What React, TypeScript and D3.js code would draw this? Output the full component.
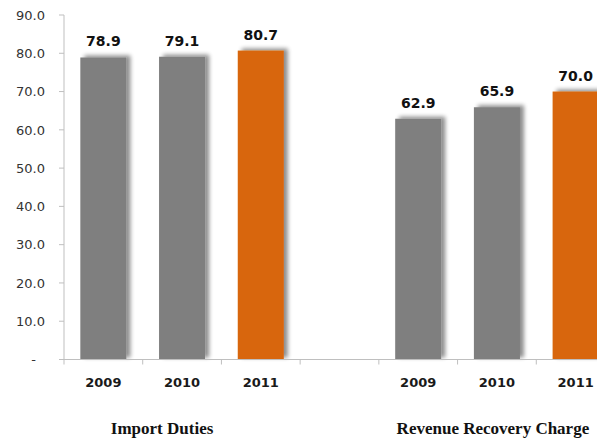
import React from "react";
import * as d3 from "d3";

const years = ["2009", "2010", "2011"];
const groupNames = ["Import Duties", "Revenue Recovery Charge"];
const importDuties = [78.9, 79.1, 80.7];
const revenueRecovery = [62.9, 65.9, 70.0];
const yTicks = [0, 10, 20, 30, 40, 50, 60, 70, 80, 90];

const W = 597;
const H = 439;

export default function App() {
  // 7 slots: group1 (3), blank spacer (1), group2 (3)
  const slots = d3.range(7);
  const x = d3
    .scaleBand<number>()
    .domain(slots)
    .range([64, 615])
    .paddingInner(0.415)
    .paddingOuter(0.2075);
  const y = d3.scaleLinear().domain([0, 90]).range([359.5, 15]);
  const step = x.step();
  const bw = x.bandwidth();

  const bars = [
    ...importDuties.map((v, i) => ({ slot: i, year: years[i], value: v, idx: i })),
    ...revenueRecovery.map((v, i) => ({ slot: i + 4, year: years[i], value: v, idx: i })),
  ];

  const x0 = x.range()[0];
  const boundaries = d3.range(8).map((i) => x0 + i * step);
  const grey = "#7f7f7f";
  const orange = "#d8660b";
  const axisColor = "#bfbfbf";

  const groupCenter = (g: number) => (x(g * 4 + 1)! + bw / 2);

  return (
    <svg
      width={W}
      height={H}
      style={{ position: "absolute", left: 0, top: 0, background: "#fff" }}
    >
      <defs>
        <filter id="shadow" x="-30%" y="-10%" width="160%" height="120%">
          <feGaussianBlur in="SourceAlpha" stdDeviation="2.2" result="blur" />
          <feOffset in="blur" dx="4" dy="-2" result="off" />
          <feComponentTransfer in="off" result="shadowFaded">
            <feFuncA type="linear" slope="0.45" />
          </feComponentTransfer>
          <feMerge>
            <feMergeNode in="shadowFaded" />
            <feMergeNode in="SourceGraphic" />
          </feMerge>
        </filter>
      </defs>
      <rect width={W} height={H} fill="#fff" />

      {/* y axis */}
      <line x1={64} x2={64} y1={y(90)} y2={y(0)} stroke={axisColor} strokeWidth={1} />
      {yTicks.map((t) => (
        <g key={t}>
          <line x1={59} x2={64} y1={y(t)} y2={y(t)} stroke={axisColor} />
          <text
            x={t === 0 ? 36 : 45}
            y={y(t)}
            dy="0.36em"
            textAnchor="end"
            fontFamily="DejaVu Sans, sans-serif"
            fontSize={13}
            fill="#333"
          >
            {t === 0 ? "-" : d3.format(".1f")(t)}
          </text>
        </g>
      ))}

      {/* bars */}
      {bars.map((b) => (
        <rect
          key={b.slot}
          x={x(b.slot)}
          y={y(b.value)}
          width={bw}
          height={y(0) - y(b.value)}
          fill={b.idx === 2 ? orange : grey}
          filter="url(#shadow)"
        />
      ))}

      {/* x axis */}
      <line x1={64} x2={W} y1={y(0)} y2={y(0)} stroke={axisColor} strokeWidth={1} />
      {boundaries.map((bx, i) => (
        <line key={i} x1={bx} x2={bx} y1={y(0)} y2={y(0) + 5} stroke={axisColor} />
      ))}

      {/* value labels */}
      {bars.map((b) => (
        <text
          key={"v" + b.slot}
          x={x(b.slot)! + bw / 2}
          y={y(b.value) - 11}
          textAnchor="middle"
          fontFamily="DejaVu Sans, sans-serif"
          fontWeight="bold"
          fontSize={14}
          fill="#111"
        >
          {d3.format(".1f")(b.value)}
        </text>
      ))}

      {/* category labels */}
      {bars.map((b) => (
        <text
          key={"c" + b.slot}
          x={x(b.slot)! + bw / 2}
          y={387}
          textAnchor="middle"
          fontFamily="DejaVu Sans, sans-serif"
          fontWeight="bold"
          fontSize={13}
          fill="#1a1a1a"
        >
          {b.year}
        </text>
      ))}

      {/* group labels */}
      {groupNames.map((g, i) => (
        <text
          key={g}
          x={groupCenter(i) + (i === 0 ? -20 : -4)}
          y={434}
          textAnchor="middle"
          fontFamily="Liberation Serif, serif"
          fontWeight="bold"
          fontSize={17}
          fill="#111"
        >
          {g}
        </text>
      ))}
    </svg>
  );
}
